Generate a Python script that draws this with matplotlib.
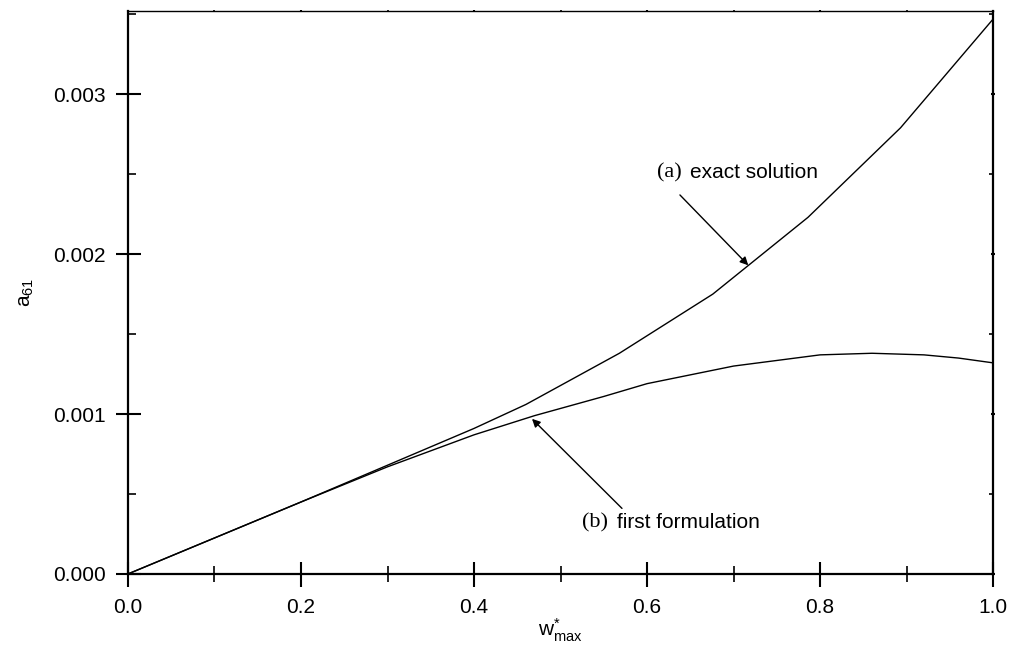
import numpy as np
import matplotlib
matplotlib.use("Agg")
import matplotlib.pyplot as plt
from matplotlib.ticker import MultipleLocator, FormatStrFormatter

plt.rcParams['font.family'] = ['Liberation Sans', 'DejaVu Sans']
plt.rcParams['mathtext.fontset'] = 'custom'
plt.rcParams['mathtext.rm'] = 'Liberation Sans'
plt.rcParams['mathtext.default'] = 'regular'

# (a) exact solution - piecewise polyline
wa = [0.0, 0.1, 0.2, 0.3, 0.4, 0.46, 0.568, 0.676, 0.786, 0.893, 1.0]
aa = [0.0, 0.000225, 0.00045, 0.00068, 0.00091, 0.00106, 0.00138, 0.00175, 0.00223, 0.00279, 0.00347]

# (b) first formulation - smooth curve
wb = [0.0, 0.1, 0.2, 0.3, 0.4, 0.47, 0.55, 0.6, 0.7, 0.8, 0.86, 0.92, 0.96, 1.0]
ab = [0.0, 0.000225, 0.00045, 0.00067, 0.00087, 0.00099, 0.00111, 0.00119, 0.00130, 0.00137, 0.00138, 0.00137, 0.00135, 0.00132]

fig = plt.figure(figsize=(10.19, 6.5), dpi=100)
ax = fig.add_axes([0.1256, 0.117, 0.849, 0.866])

ax.plot(wa, aa, color='black', lw=1.0)
ax.plot(wb, ab, color='black', lw=1.0)

ax.set_xlim(0, 1.0)
ax.set_ylim(0, 0.00352)

ax.xaxis.set_major_locator(MultipleLocator(0.2))
ax.xaxis.set_minor_locator(MultipleLocator(0.1))
ax.yaxis.set_major_locator(MultipleLocator(0.001))
ax.yaxis.set_minor_locator(MultipleLocator(0.0005))
ax.xaxis.set_major_formatter(FormatStrFormatter('%.1f'))
ax.yaxis.set_major_formatter(FormatStrFormatter('%.3f'))

ax.tick_params(axis='x', which='major', direction='inout', length=18, width=1.5, labelsize=15, pad=8)
ax.tick_params(axis='x', which='minor', direction='inout', length=12, width=1.2)
ax.tick_params(axis='y', which='major', direction='inout', length=18, width=1.5, labelsize=15, pad=7)
ax.tick_params(axis='y', which='minor', direction='in', length=6, width=1.2)
ax.tick_params(which='both', top=True, right=True)
for t in ax.xaxis.get_ticklines(minor=False)[1::2] + ax.xaxis.get_ticklines(minor=True)[1::2]:
    t.set_markersize(2)
for t in ax.yaxis.get_ticklines(minor=False)[1::2] + ax.yaxis.get_ticklines(minor=True)[1::2]:
    t.set_markersize(3)

for s in ['left', 'bottom', 'right']:
    ax.spines[s].set_linewidth(1.6)
ax.spines['top'].set_linewidth(1.0)

ax.set_xlabel('w$^{*}_{max}$', fontsize=15, labelpad=0)
ax.set_ylabel('a$_{61}$', fontsize=15, labelpad=12)

ax.annotate('', xy=(0.717, 0.00193), xytext=(0.638, 0.00237),
            arrowprops=dict(arrowstyle='-|>', color='black', lw=1.0, mutation_scale=12, shrinkA=0, shrinkB=0))
ax.annotate('', xy=(0.467, 0.00097), xytext=(0.571, 0.00041),
            arrowprops=dict(arrowstyle='-|>', color='black', lw=1.0, mutation_scale=12, shrinkA=0, shrinkB=0))

ax.text(0.611, 0.00251, '(a)', family='Liberation Serif', fontsize=16, va='center')
ax.text(0.6497, 0.00251, 'exact solution', fontsize=15, va='center')
ax.text(0.5249, 0.00032, '(b)', family='Liberation Serif', fontsize=16, va='center')
ax.text(0.5653, 0.00032, 'first formulation', fontsize=15, va='center')

fig.savefig('out.png', dpi=100)
